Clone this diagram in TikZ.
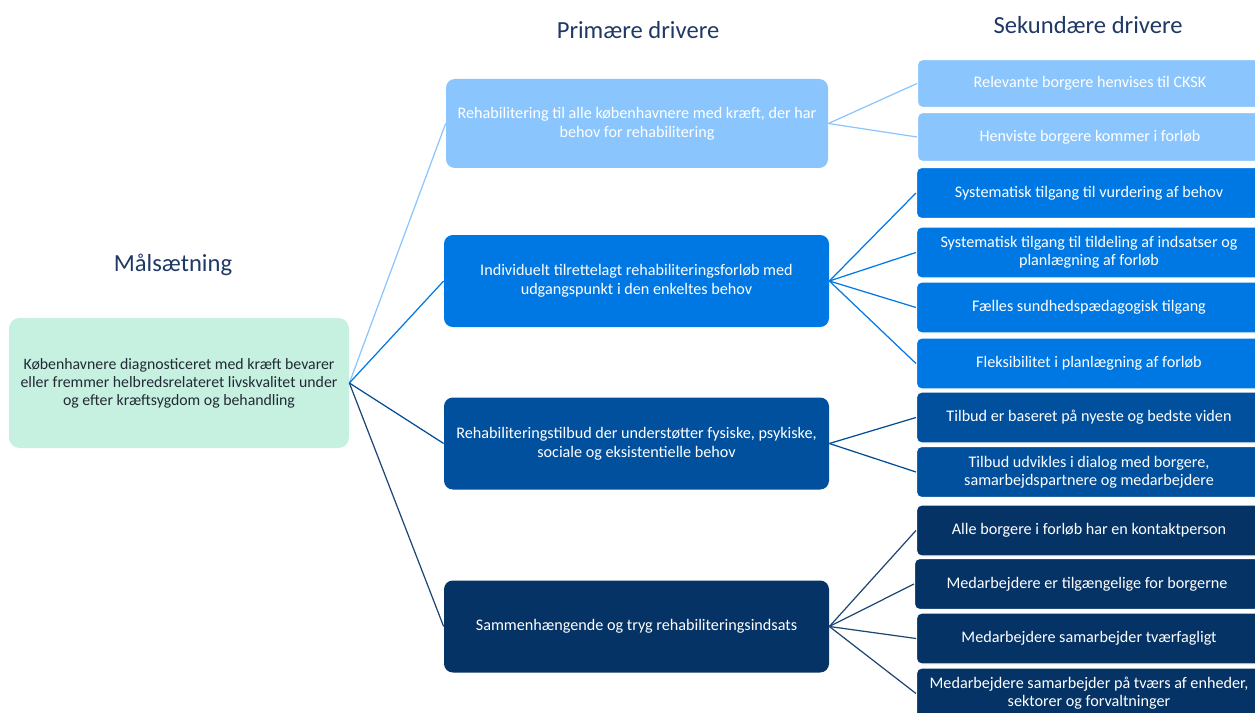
\documentclass[tikz,border=0pt]{standalone}
\usepackage{fontspec}
\setmainfont{Carlito}
\usepackage{xcolor}
\usepackage{tikz}
\usetikzlibrary{positioning}

\definecolor{goalgreen}{HTML}{C6F0E0}
\definecolor{goaltext}{HTML}{222A35}
\definecolor{titleblue}{HTML}{1F3864}
\definecolor{lightblue}{HTML}{8AC6FD}
\definecolor{midblue}{HTML}{0078E4}
\definecolor{deepblue}{HTML}{00509E}
\definecolor{navyblue}{HTML}{063365}

\begin{document}
\begin{tikzpicture}[x=0.02cm,y=-0.02cm,
                    title node/.style={text=titleblue,font=\fontsize{14}{16}\selectfont},
                    goal node/.style={fill=goalgreen,text=goaltext,rounded corners=6pt,align=center,
                      minimum width=340*0.02cm,minimum height=130*0.02cm,font=\fontsize{9}{10.3}\selectfont},
                    prim node/.style={rounded corners=5pt,text=white,align=center,
                      minimum width=385*0.02cm,minimum height=92*0.02cm,font=\fontsize{9.2}{10.8}\selectfont},
                    sec node/.style={rounded corners=3pt,text=white,align=center,draw=white,line width=0.6pt,
                      minimum width=345*0.02cm,minimum height=51*0.02cm,font=\fontsize{9.2}{10.3}\selectfont},
                    link/.style={draw,line width=0.7pt}]
  \useasboundingbox (0,0) rectangle (1255,713);

  % titles
  \node[title node] (t1) at (173,265) {Målsætning};
  \node[title node] (t2) at (638,30) {Primære drivere};
  \node[title node] (t3) at (1088,25) {Sekundære drivere};

  % goal
  \node[goal node] (m) at (179,383) {Københavnere diagnosticeret med kræft bevarer\\eller fremmer helbredsrelateret livskvalitet under\\og efter kræftsygdom og behandling};

  % primary drivers
  \node[prim node,fill=lightblue,minimum width=382*0.02cm,minimum height=89*0.02cm] (p1) at (637,123.5) {Rehabilitering til alle københavnere med kræft, der har\\behov for rehabilitering};
  \node[prim node,fill=midblue] (p2) at (636.5,281) {Individuelt tilrettelagt rehabiliteringsforløb med\\udgangspunkt i den enkeltes behov};
  \node[prim node,fill=deepblue] (p3) at (636.5,443.5) {Rehabiliteringstilbud der understøtter fysiske, psykiske,\\sociale og eksistentielle behov};
  \node[prim node,fill=navyblue] (p4) at (636.5,626.5) {Sammenhængende og tryg rehabiliteringsindsats};

  % secondary drivers
  \node[sec node,fill=lightblue,minimum height=48*0.02cm] (s1) at (1090,83.5) {Relevante borgere henvises til CKSK};
  \node[sec node,fill=lightblue,minimum height=49*0.02cm] (s2) at (1090,137) {Henviste borgere kommer i forløb};
  \node[sec node,fill=midblue] (s3) at (1089,193) {Systematisk tilgang til vurdering af behov};
  \node[sec node,fill=midblue] (s4) at (1089,252.5) {Systematisk tilgang til tildeling af indsatser og\\planlægning af forløb};
  \node[sec node,fill=midblue] (s5) at (1089,307.5) {Fælles sundhedspædagogisk tilgang};
  \node[sec node,fill=midblue] (s6) at (1089,363.5) {Fleksibilitet i planlægning af forløb};
  \node[sec node,fill=deepblue] (s7) at (1089,417.5) {Tilbud er baseret på nyeste og bedste viden};
  \node[sec node,fill=deepblue] (s8) at (1089,472) {Tilbud udvikles i dialog med borgere,\\samarbejdspartnere og medarbejdere};
  \node[sec node,fill=navyblue] (s9) at (1089,530.5) {Alle borgere i forløb har en kontaktperson};
  \node[sec node,fill=navyblue] (s10) at (1087,584) {Medarbejdere er tilgængelige for borgerne};
  \node[sec node,fill=navyblue] (s11) at (1089,638.5) {Medarbejdere samarbejder tværfagligt};
  \node[sec node,fill=navyblue] (s12) at (1089,693.5) {Medarbejdere samarbejder på tværs af enheder,\\sektorer og forvaltninger};

  % links
  \path[every edge/.style={link,lightblue}]
    (m.east) edge (p1.west)
    (p1.east) edge (s1.west)
              edge (s2.west);
  \path[every edge/.style={link,midblue}]
    (m.east) edge (p2.west)
    (p2.east) edge (s3.west)
              edge (s4.west)
              edge (s5.west)
              edge (s6.west);
  \path[every edge/.style={link,deepblue!85!navyblue}]
    (m.east) edge (p3.west)
    (p3.east) edge (s7.west)
              edge (s8.west);
  \path[every edge/.style={link,navyblue!90!white}]
    (m.east) edge (p4.west)
    (p4.east) edge (s9.west)
              edge (s10.west)
              edge (s11.west)
              edge (s12.west);

\end{tikzpicture}
\end{document}
